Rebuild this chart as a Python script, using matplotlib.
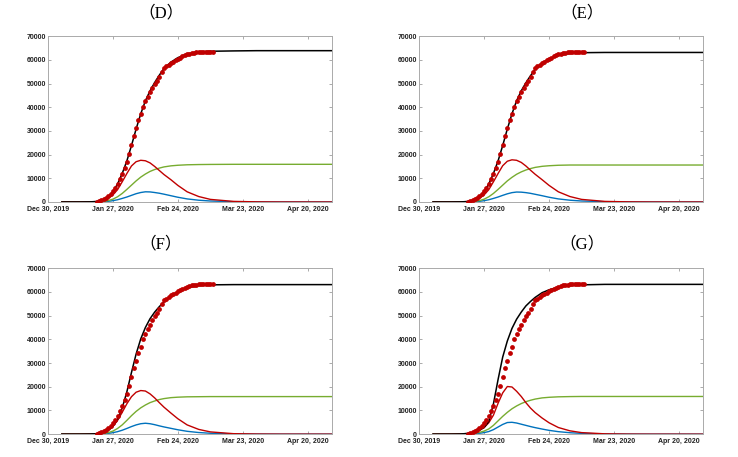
import numpy as np
import matplotlib.pyplot as plt

# day offsets from Dec 30, 2019 (shared grid for the model curves)
days = [6, 14, 18, 21, 24, 26, 28, 30, 32, 34, 36, 38, 40, 42, 44, 46, 48, 50,
        53, 56, 60, 65, 70, 80, 90, 100, 123]

# observed cumulative cases, daily from Jan 20 to Mar 10, 2020
obs_start = 21
obs = [140, 280, 700, 1120, 1830, 2670, 3520, 4640, 6050, 7450, 9560, 11670,
       14340, 17010, 20110, 24040, 27840, 31070, 34450, 36980, 40070, 42470,
       44290, 46260, 48230, 49780, 51040, 52870, 54980, 56530, 57230, 57940,
       58780, 59200, 59760, 60330, 60890, 61450, 61870, 62300, 62580, 62860,
       63000, 63140, 63270, 63350, 63400, 63400, 63400, 63400, 63400]

# panel D
d_black = [0, 10, 50, 200, 1000, 2200, 4300, 7600, 12000, 17300, 23800, 30800,
           37200, 42700, 46900, 50400, 53500, 56300, 59000, 60900, 62500, 63300,
           63600, 63750, 63850, 63850, 63850]
d_red = [0, 10, 50, 200, 700, 1500, 3000, 5200, 8500, 12000, 15200, 17000, 17600,
         17400, 16500, 15000, 13300, 11600, 9400, 7000, 4300, 2300, 1100, 250, 60, 10, 0]
d_green = [0, 5, 20, 80, 300, 600, 1200, 2200, 3600, 5300, 7100, 8900, 10500, 11800,
           12900, 13700, 14300, 14800, 15250, 15500, 15700, 15800, 15850, 15900,
           15900, 15900, 15900]
d_blue = [0, 2, 10, 40, 150, 300, 550, 950, 1500, 2100, 2800, 3500, 4000, 4300,
          4250, 4000, 3700, 3300, 2650, 2000, 1300, 750, 420, 130, 40, 10, 0]

# panel E
e_black = [0, 10, 50, 200, 1000, 2200, 4300, 7600, 12000, 17300, 23800, 30800,
           37200, 42700, 46900, 50300, 53300, 56000, 58600, 60500, 61900, 62700,
           63000, 63100, 63100, 63100, 63100]
e_red = [0, 10, 50, 200, 700, 1500, 3000, 5200, 8500, 12000, 15300, 17200, 17800,
         17600, 16700, 15200, 13400, 11700, 9400, 7000, 4300, 2300, 1100, 250, 60, 10, 0]
e_green = [0, 5, 20, 80, 300, 600, 1200, 2200, 3600, 5300, 7100, 8900, 10400, 11700,
           12700, 13500, 14100, 14600, 15050, 15300, 15500, 15600, 15600, 15600,
           15600, 15600, 15600]
e_blue = [0, 2, 10, 40, 150, 300, 550, 950, 1500, 2100, 2800, 3450, 3950, 4200,
          4150, 3950, 3650, 3250, 2650, 2000, 1300, 750, 420, 130, 40, 10, 0]

# panel F
f_black = [0, 10, 50, 180, 700, 1600, 3300, 6200, 11000, 17800, 26000, 33800,
           40200, 45000, 48700, 51500, 53800, 55800, 58300, 60100, 61800, 62700,
           63000, 63100, 63100, 63100, 63100]
f_red = [0, 10, 50, 200, 800, 1700, 3300, 5800, 9200, 12800, 15800, 17700, 18400,
         18200, 17000, 15300, 13300, 11400, 8900, 6500, 3900, 2000, 950, 200, 50, 10, 0]
f_green = [0, 5, 20, 80, 300, 650, 1300, 2400, 3900, 5800, 7800, 9600, 11100, 12300,
           13300, 14000, 14600, 15000, 15400, 15600, 15750, 15800, 15850, 15850,
           15850, 15850, 15850]
f_blue = [0, 2, 10, 40, 160, 330, 620, 1050, 1650, 2400, 3200, 3900, 4400, 4600,
          4400, 4000, 3500, 3050, 2450, 1850, 1200, 680, 380, 110, 30, 8, 0]

# panel G
g_black = [0, 20, 80, 300, 900, 1700, 2800, 5400, 12700, 23000, 32500, 39300,
           44600, 48500, 51500, 54100, 56000, 57700, 59700, 60900, 62000, 62700,
           63000, 63200, 63200, 63200, 63200]
g_red = [0, 20, 80, 300, 900, 1700, 2800, 4800, 8000, 13000, 17400, 20100, 19900,
         18100, 15900, 13300, 11000, 9100, 6800, 4800, 2800, 1400, 650, 140, 30, 5, 0]
g_green = [0, 10, 40, 130, 400, 750, 1300, 2200, 3700, 5600, 7500, 9200, 10700,
           11900, 12900, 13700, 14300, 14800, 15300, 15550, 15750, 15850, 15900,
           15900, 15900, 15900, 15900]
g_blue = [0, 5, 20, 60, 200, 380, 650, 1100, 1900, 3000, 4100, 4900, 5000, 4700,
          4200, 3700, 3200, 2750, 2150, 1600, 1050, 600, 330, 90, 25, 5, 0]

panel_labels = ['（D）', '（E）', '（F）', '（G）']
tick_days = [0, 28, 56, 84, 112]
tick_labels = ['Dec 30, 2019', 'Jan 27, 2020', 'Feb 24, 2020', 'Mar 23, 2020', 'Apr 20, 2020']

c_blue = '#0072BD'
c_green = '#77AC30'
c_red = '#C00000'

fig = plt.figure(figsize=(7.38, 4.57), dpi=100)

positions = [[0.065, 0.558, 0.385, 0.363],
             [0.568, 0.558, 0.385, 0.363],
             [0.065, 0.050, 0.385, 0.363],
             [0.568, 0.050, 0.385, 0.363]]
title_xy = [(0.218, 0.971), (0.789, 0.971), (0.218, 0.466), (0.789, 0.466)]
curves = [(d_black, d_red, d_green, d_blue),
          (e_black, e_red, e_green, e_blue),
          (f_black, f_red, f_green, f_blue),
          (g_black, g_red, g_green, g_blue)]

obs_days = np.arange(obs_start, obs_start + len(obs))

for k in range(4):
    ax = fig.add_axes(positions[k])
    black, red, green, blue = curves[k]
    ax.plot(days, blue, color=c_blue, lw=1.0)
    ax.plot(days, green, color=c_green, lw=1.0)
    ax.plot(days, red, color=c_red, lw=1.0)
    ax.plot(days, black, color='black', lw=1.1)
    ax.scatter(obs_days, obs, s=12, color=c_red, zorder=5, linewidths=0)

    ax.set_xlim(0, 122.5)
    ax.set_ylim(0, 70000)
    ax.set_xticks(tick_days)
    ax.set_xticklabels(tick_labels)
    ax.set_yticks(np.arange(0, 70001, 10000))
    ax.tick_params(direction='in', length=2.5, width=0.5, color='#888888',
                   top=True, right=True, labelsize=5, pad=1.5)
    ax.tick_params(axis='x', pad=3)
    for lab in ax.get_xticklabels() + ax.get_yticklabels():
        lab.set_fontweight('bold')
        lab.set_family('Liberation Sans')
        lab.set_color('#222222')
    for sp in ax.spines.values():
        sp.set_color('#aaaaaa')
        sp.set_linewidth(0.7)

    fig.text(title_xy[k][0], title_xy[k][1], panel_labels[k], ha='center', va='center',
             fontsize=12, family=['Liberation Serif', 'Noto Sans CJK SC'])

fig.savefig('out.png', dpi=100)
